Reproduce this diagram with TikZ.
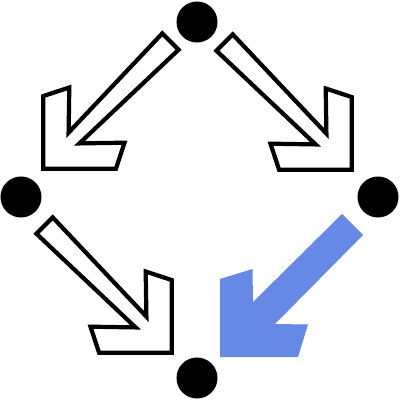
\documentclass[tikz,border=0pt]{standalone}
\usetikzlibrary{}

\definecolor{arrowblue}{RGB}{101,137,229}

\tikzstyle{dot}=[circle,fill=black,inner sep=0pt,minimum size=1.025cm]
\tikzstyle{hollow}=[draw=black,line width=3pt,fill=white,line join=miter]
\tikzstyle{solid}=[fill=arrowblue]

\tikzset{
  pics/hollowarrow/.style={code={
    \draw[hollow] (-2.2,-2.2) -- (-2.2,-74.9) -- (-28.3,-83.5) -- (-27.6,-38.4)
      -- (-121.3,-137.6) -- (-137.6,-121.3) -- (-38.4,-27.6) -- (-83.5,-28.3)
      -- (-74.9,-2.2) -- cycle;
  }},
  pics/solidarrow/.style={code={
    \fill[solid] (0,0) -- (0,-78) -- (-32.5,-88) -- (-33,-55) -- (-122,-143)
      -- (-143,-122) -- (-55,-33) -- (-88,-32.5) -- (-78,0) -- cycle;
  }}
}

\begin{document}
\begin{tikzpicture}[x=0.025cm,y=-0.025cm]
  \useasboundingbox (0,0) rectangle (400,400);

  % corners of the square
  \foreach \nodename/\x/\y in {
    top/197/22, left/21/197, right/378/197, bottom/197/378}
  {
    \node[dot] (\nodename) at (\x,\y) {};
  }

  % tips of the arrows
  \coordinate (tl) at (41,171);
  \coordinate (tr) at (354,172);
  \coordinate (bl) at (174,355);
  \coordinate (br) at (220,357);

  %arrows
  \pic[xscale=-1] at (tl) {hollowarrow};
  \pic at (tr) {hollowarrow};
  \pic at (bl) {hollowarrow};
  \pic[xscale=-1] at (br) {solidarrow};

\end{tikzpicture}
\end{document}
